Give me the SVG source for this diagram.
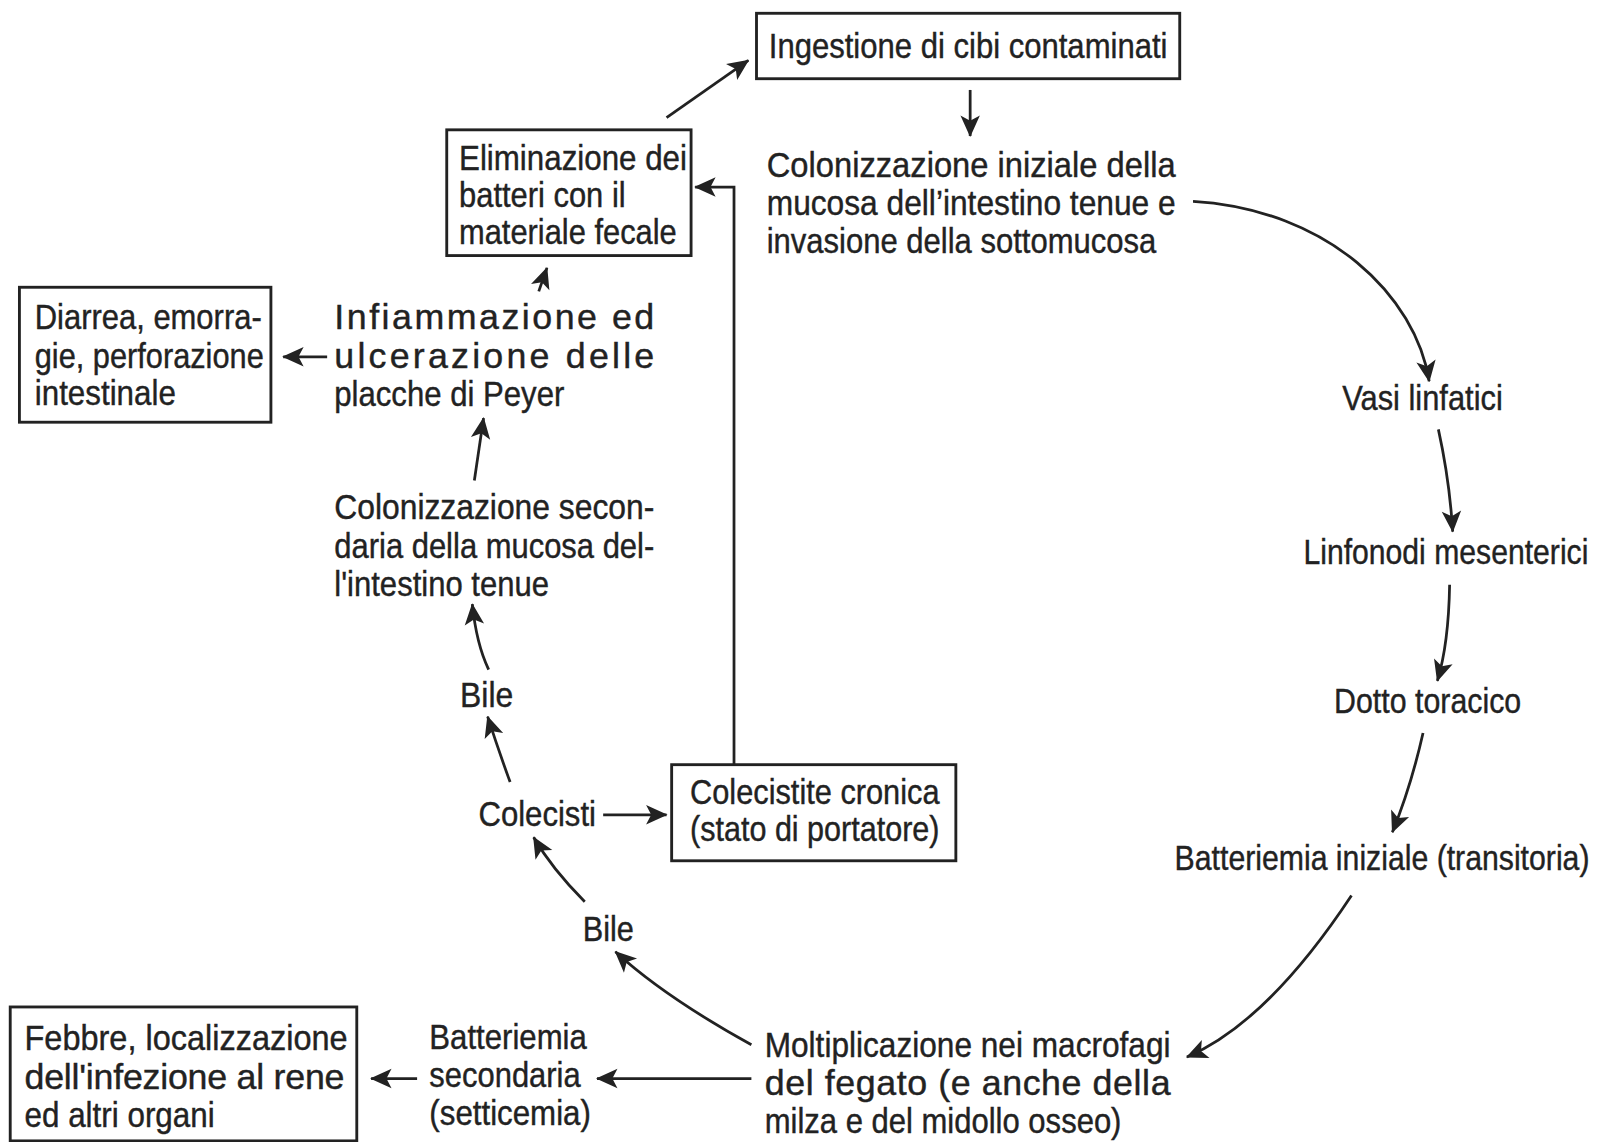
<svg xmlns="http://www.w3.org/2000/svg" width="1603" height="1142" viewBox="0 0 1603 1142">
<defs>
<marker id="ah" viewBox="-22 -11 23 22" refX="0" refY="0" markerWidth="23" markerHeight="22" markerUnits="userSpaceOnUse" orient="auto">
<path d="M1,0 L-20,-9.5 L-15,0 L-20,9.5 Z" fill="#222"/>
</marker>
</defs>
<style>
.t{font-family:"Liberation Sans",Arial,sans-serif;font-size:35px;fill:#222;stroke:#222;stroke-width:0.4}
.box{fill:none;stroke:#222;stroke-width:2.8}
.c{fill:none;stroke:#222;stroke-width:2.7;marker-end:url(#ah)}
</style>
<rect width="1603" height="1142" fill="#fff"/>
<g transform="scale(1.0223)">
<g id="connectors">
<path class="c" d="M652,115 L732,59"/>
<path class="c" d="M949,88 L949,133"/>
<path class="c" d="M1167,197 C1300,205 1385,290 1398,373"/>
<path class="c" d="M1407,420 Q1418,470 1421,520"/>
<path class="c" d="M1418,572 Q1417,630 1406,666"/>
<path class="c" d="M1392,717 Q1380,770 1362,814"/>
<path class="c" d="M1322,876 Q1240,1000 1161,1034"/>
<path class="c" d="M735,1055 L584,1055"/>
<path class="c" d="M408,1055 L363,1055"/>
<path class="c" d="M735,1022 Q650,975 602,931"/>
<path class="c" d="M572,882 Q540,850 522,819"/>
<path class="c" d="M590,797 L652,797"/>
<path class="c" d="M718,748 L718,183 L680,183"/>
<path class="c" d="M499,765 Q488,735 477,701"/>
<path class="c" d="M478,655 Q466,630 462,591"/>
<path class="c" d="M464,470 L473,409"/>
<path class="c" d="M320,349 L277,349"/>
<path class="c" d="M527,285 L535,262"/>
</g>
<g id="ingestione">
<rect class="box" x="740" y="13" width="414" height="64"/>
<text class="t" x="752" y="57" textLength="390" lengthAdjust="spacingAndGlyphs">Ingestione di cibi contaminati</text>
</g>
<g id="colonizzazione-iniziale">
<text class="t" x="750" y="173" textLength="400" lengthAdjust="spacingAndGlyphs">Colonizzazione iniziale della</text>
<text class="t" x="750" y="210" textLength="400" lengthAdjust="spacingAndGlyphs">mucosa dell’intestino tenue e</text>
<text class="t" x="750" y="247" textLength="381" lengthAdjust="spacingAndGlyphs">invasione della sottomucosa</text>
</g>
<g id="vasi">
<text class="t" x="1313" y="401" textLength="157" lengthAdjust="spacingAndGlyphs">Vasi linfatici</text>
</g>
<g id="linfonodi">
<text class="t" transform="translate(1275,552) scale(0.843,1)" x="0" y="0">Linfonodi mesenterici</text>
</g>
<g id="dotto">
<text class="t" x="1305" y="697" textLength="183" lengthAdjust="spacingAndGlyphs">Dotto toracico</text>
</g>
<g id="batteriemia-iniziale">
<text class="t" transform="translate(1149,851) scale(0.845,1)" x="0" y="0">Batteriemia iniziale (transitoria)</text>
</g>
<g id="moltiplicazione">
<text class="t" x="748" y="1034" textLength="397" lengthAdjust="spacingAndGlyphs">Moltiplicazione nei macrofagi</text>
<text class="t" x="748" y="1071" textLength="397" lengthAdjust="spacing">del fegato (e anche della</text>
<text class="t" x="748" y="1108" textLength="349" lengthAdjust="spacingAndGlyphs">milza e del midollo osseo)</text>
</g>
<g id="batteriemia-secondaria">
<text class="t" x="420" y="1026" textLength="154" lengthAdjust="spacingAndGlyphs">Batteriemia</text>
<text class="t" x="420" y="1063" textLength="148" lengthAdjust="spacingAndGlyphs">secondaria</text>
<text class="t" x="420" y="1100" textLength="158" lengthAdjust="spacingAndGlyphs">(setticemia)</text>
</g>
<g id="febbre">
<rect class="box" x="10" y="985" width="339" height="131"/>
<text class="t" x="24" y="1027" textLength="316" lengthAdjust="spacingAndGlyphs">Febbre, localizzazione</text>
<text class="t" x="24" y="1065" textLength="313" lengthAdjust="spacing">dell'infezione al rene</text>
<text class="t" x="24" y="1102" textLength="186" lengthAdjust="spacingAndGlyphs">ed altri organi</text>
</g>
<g id="bile-inferiore">
<text class="t" x="570" y="920" textLength="50" lengthAdjust="spacingAndGlyphs">Bile</text>
</g>
<g id="colecisti">
<text class="t" x="468" y="808" textLength="115" lengthAdjust="spacingAndGlyphs">Colecisti</text>
</g>
<g id="colecistite">
<rect class="box" x="657" y="748" width="278" height="94"/>
<text class="t" x="675" y="786" textLength="244" lengthAdjust="spacingAndGlyphs">Colecistite cronica</text>
<text class="t" x="675" y="823" textLength="244" lengthAdjust="spacingAndGlyphs">(stato di portatore)</text>
</g>
<g id="bile-superiore">
<text class="t" x="450" y="692" textLength="52" lengthAdjust="spacingAndGlyphs">Bile</text>
</g>
<g id="colonizzazione-secondaria">
<text class="t" x="327" y="508" textLength="313" lengthAdjust="spacingAndGlyphs">Colonizzazione secon-</text>
<text class="t" x="327" y="546" textLength="313" lengthAdjust="spacingAndGlyphs">daria della mucosa del-</text>
<text class="t" x="327" y="583" textLength="210" lengthAdjust="spacingAndGlyphs">l'intestino tenue</text>
</g>
<g id="infiammazione">
<text class="t" x="327" y="322" textLength="313" lengthAdjust="spacing">Infiammazione ed</text>
<text class="t" x="327" y="360" textLength="313" lengthAdjust="spacing">ulcerazione delle</text>
<text class="t" x="327" y="397" textLength="225" lengthAdjust="spacingAndGlyphs">placche di Peyer</text>
</g>
<g id="diarrea">
<rect class="box" x="19" y="281" width="246" height="132"/>
<text class="t" x="34" y="322" textLength="222" lengthAdjust="spacingAndGlyphs">Diarrea, emorra-</text>
<text class="t" x="34" y="360" textLength="224" lengthAdjust="spacingAndGlyphs">gie, perforazione</text>
<text class="t" x="34" y="396" textLength="138" lengthAdjust="spacingAndGlyphs">intestinale</text>
</g>
<g id="eliminazione">
<rect class="box" x="437" y="127" width="239" height="123"/>
<text class="t" x="449" y="166" textLength="223" lengthAdjust="spacingAndGlyphs">Eliminazione dei</text>
<text class="t" x="449" y="202" textLength="163" lengthAdjust="spacingAndGlyphs">batteri con il</text>
<text class="t" x="449" y="239" textLength="213" lengthAdjust="spacingAndGlyphs">materiale fecale</text>
</g>
</g>
</svg>
